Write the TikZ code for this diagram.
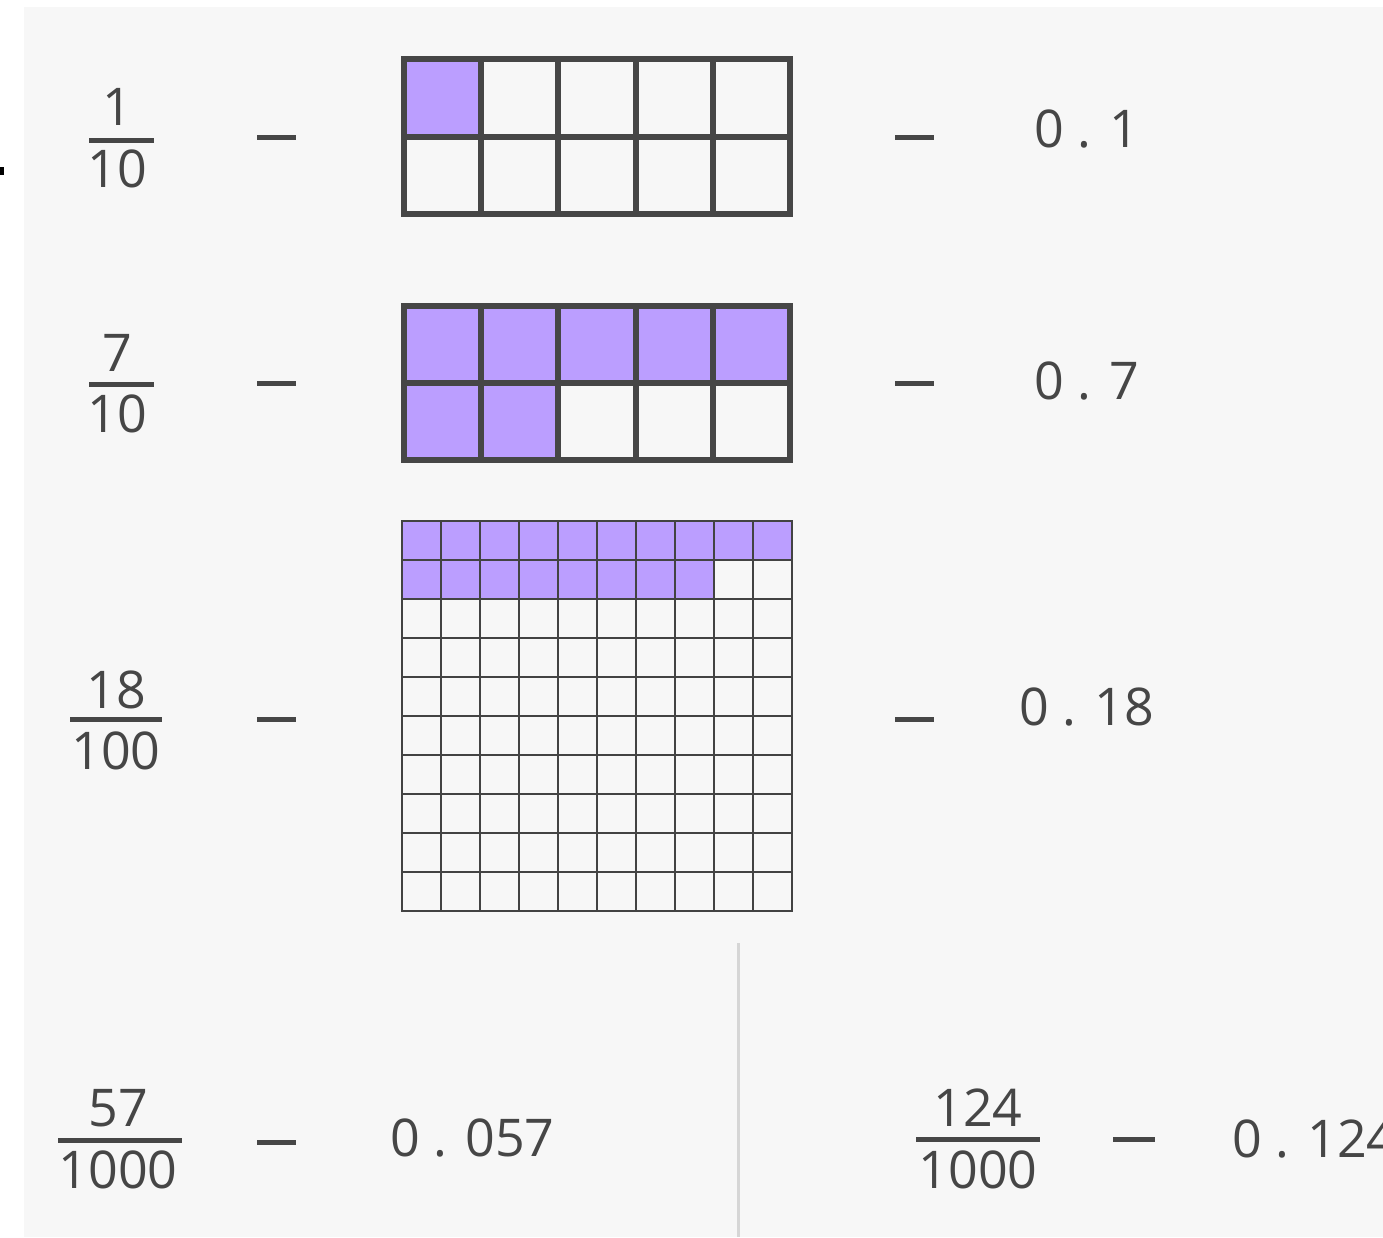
\documentclass[tikz,border=0pt]{standalone}
\usepackage{fontspec}
\setmainfont{Open Sans}
\usetikzlibrary{positioning, calc}
\definecolor{fondogris}{HTML}{F7F7F7}
\definecolor{tinta}{HTML}{464646}
\definecolor{lila}{HTML}{BB9EFF}
\definecolor{separador}{HTML}{D6D6D6}

\tikzset{
  cifra/.style={text=tinta, font=\fontsize{52}{60}\selectfont, inner sep=0pt},
  barra/.style={tinta, line width=5pt},
  guion/.style={tinta, line width=5pt},
  rejilla/.style={tinta, line width=6pt},
  rejillafina/.style={tinta!95!black, line width=2.5pt},
}

\begin{document}
\begin{tikzpicture}[x=1pt, y=-1pt]
        % Fondo y margenes
        \useasboundingbox (0,0) rectangle (1383,1237);
        \fill[white] (0,0) rectangle (1383,1237);
        \fill[fondogris] (24,7) rectangle (1383,1237);
        \fill[black] (0,167) rectangle (4,175);

        % Fila 1: 1/10
        \node[cifra] (num1) at (117,107) {1};
        \node[cifra] (den1) at (117,169) {10};
        \draw[barra] (89,140) -- (154,140);
        \draw[guion] (257,137) -- (296,137);
        \fill[lila] (404,59) rectangle (481.2,136.5);
        \foreach \i in {1,...,4}
            \draw[rejilla] ({404+77.2*\i},59) -- ({404+77.2*\i},214);
        \draw[rejilla] (404,136.5) -- (790,136.5);
        \draw[rejilla] (404,59) rectangle (790,214);
        \draw[guion] (895,137) -- (934,137);
        \node[cifra] (dec1) at (1087,129) {0 . 1};

        % Fila 2: 7/10
        \node[cifra] (num2) at (117,353) {7};
        \node[cifra] (den2) at (117,414) {10};
        \draw[barra] (89,384) -- (154,384);
        \draw[guion] (257,383) -- (296,383);
        \fill[lila] (404,306) rectangle (790,383);
        \fill[lila] (404,383) rectangle (558.4,460);
        \foreach \i in {1,...,4}
            \draw[rejilla] ({404+77.2*\i},306) -- ({404+77.2*\i},460);
        \draw[rejilla] (404,383) -- (790,383);
        \draw[rejilla] (404,306) rectangle (790,460);
        \draw[guion] (895,383) -- (934,383);
        \node[cifra] (dec2) at (1087,381) {0 . 7};

        % Fila 3: 18/100
        \node[cifra] (num3) at (116,690) {18};
        \node[cifra] (den3) at (116,751) {100};
        \draw[barra] (70,719) -- (162,719);
        \draw[guion] (257,719) -- (296,719);
        \fill[lila] (402,521) rectangle (792,560);
        \fill[lila] (402,560) rectangle (714,599);
        \foreach \i in {1,...,9} {
            \draw[rejillafina] ({402+39*\i},521) -- ({402+39*\i},911);
            \draw[rejillafina] (402,{521+39*\i}) -- (792,{521+39*\i});
        }
        \draw[rejillafina] (402,521) rectangle (792,911);
        \draw[guion] (895,719) -- (934,719);
        \node[cifra] (dec3) at (1087,707) {0 . 18};

        % Fila 4: 57/1000 y 124/1000
        \node[cifra] (num4) at (118,1108) {57};
        \node[cifra] (den4) at (118,1170) {1000};
        \draw[barra] (58,1140) -- (182,1140);
        \draw[guion] (257,1142) -- (296,1142);
        \node[cifra, anchor=west] (dec4) at (390,1138) {0 . 057};

        \draw[separador, line width=3pt] (738,943) -- (738,1237);

        \node[cifra] (num5) at (978,1108) {124};
        \node[cifra] (den5) at (978,1170) {1000};
        \draw[barra] (916,1139) -- (1040,1139);
        \draw[guion] (1113,1139) -- (1155,1139);
        \node[cifra, anchor=west] (dec5) at (1232,1139) {0 . 124};
    \end{tikzpicture}
\end{document}
